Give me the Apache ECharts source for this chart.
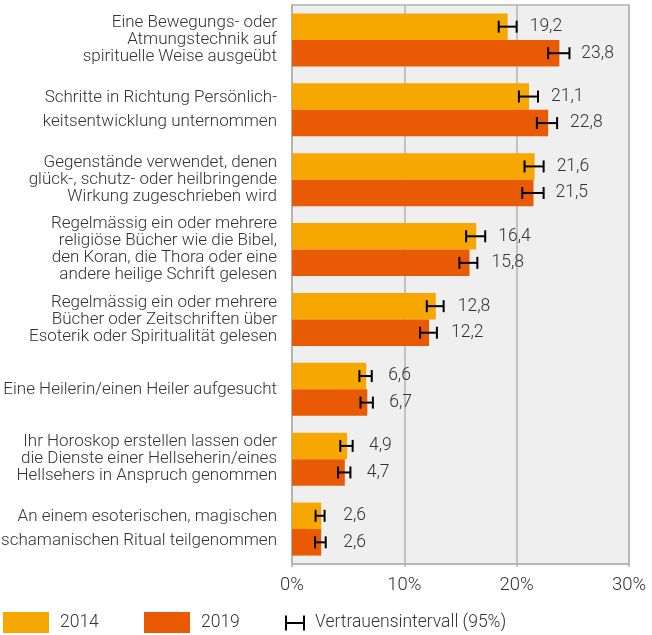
<!DOCTYPE html>
<html>
<head>
    <meta charset="utf-8">
    <title>Spirituelle Praktiken 2014 / 2019</title>
    <script src="https://cdn.jsdelivr.net/npm/echarts@6/dist/echarts.min.js"></script>
    <style>
        html, body { margin: 0; padding: 0; background: #fff; }
    </style>
</head>
<body>
<div id="main" style="width: 652px;height:635px;"></div>
<script type="text/javascript">

    const categories = [
        'Eine Bewegungs- oder\nAtmungstechnik auf\nspirituelle Weise ausgeübt',
        'Schritte in Richtung Persönlich-\nkeitsentwicklung unternommen',
        'Gegenstände verwendet, denen\nglück-, schutz- oder heilbringende\nWirkung zugeschrieben wird',
        'Regelmässig ein oder mehrere\nreligiöse Bücher wie die Bibel,\nden Koran, die Thora oder eine\nandere heilige Schrift gelesen',
        'Regelmässig ein oder mehrere\nBücher oder Zeitschriften über\nEsoterik oder Spiritualität gelesen',
        'Eine Heilerin/einen Heiler aufgesucht',
        'Ihr Horoskop erstellen lassen oder\ndie Dienste einer Hellseherin/eines\nHellsehers in Anspruch genommen',
        'An einem esoterischen, magischen\nschamanischen Ritual teilgenommen'
    ];
    const values2014 = [19.2, 21.1, 21.6, 16.4, 12.8, 6.6, 4.9, 2.6];
    const values2019 = [23.8, 22.8, 21.5, 15.8, 12.2, 6.7, 4.7, 2.6];
    // Vertrauensintervall (95%): untere / obere Grenze
    const low2014 = [18.4, 20.2, 20.7, 15.5, 12.0, 6.0, 4.3, 2.1];
    const high2014 = [20.0, 21.9, 22.4, 17.2, 13.5, 7.1, 5.4, 2.9];
    const low2019 = [22.8, 21.8, 20.5, 14.9, 11.4, 6.1, 4.1, 2.05];
    const high2019 = [24.7, 23.6, 22.4, 16.5, 12.9, 7.2, 5.2, 3.0];
    const xTicks = [0, 10, 20, 30];

    const colors = ['#f6a800', '#e95a04'];
    const textColor = '#333';
    const font = 'Roboto, "Noto Sans", sans-serif';
    const barCategoryGap = 0.24;

    const myChart = echarts.init(document.getElementById('main'));

    // Fehlerbalken als custom series (side: -1 = 2014 oben, 1 = 2019 unten)
    function errorSeries(low, high, side) {
        const data = low.map((l, i) => [i, l, high[i]]);
        return {
            type: 'custom',
            name: 'Vertrauensintervall (95%)',
            itemStyle: {color: '#000'},
            z: 10,
            encode: {x: [1, 2], y: 0},
            data: data,
            renderItem: function (params, api) {
                const cat = api.value(0);
                const p1 = api.coord([api.value(1), cat]);
                const p2 = api.coord([api.value(2), cat]);
                const band = api.size([0, 1])[1];
                const barW = band * (1 - barCategoryGap) / 2;
                const y = p1[1] + side * barW / 2;
                const cap = 6;
                const style = {stroke: '#000', lineWidth: 2, fill: null};
                return {
                    type: 'group',
                    children: [
                        {type: 'line', shape: {x1: p1[0], y1: y, x2: p2[0], y2: y}, style: style},
                        {type: 'line', shape: {x1: p1[0], y1: y - cap, x2: p1[0], y2: y + cap}, style: style},
                        {type: 'line', shape: {x1: p2[0], y1: y - cap, x2: p2[0], y2: y + cap}, style: style}
                    ]
                };
            }
        };
    }

    function barLabel() {
        return {
            show: true,
            position: 'right',
            distance: 22,
            color: textColor,
            fontSize: 17.5,
            fontWeight: 300,
            fontFamily: font,
            formatter: p => p.value.toFixed(1).replace('.', ',')
        };
    }

    const legendText = {color: textColor, fontSize: 17.5, fontWeight: 300, fontFamily: font};

    const option = {
        animation: false,
        backgroundColor: '#fff',
        grid: {
            left: 292,
            right: 23,
            top: 5,
            bottom: 71,
            outerBoundsMode: 'none',
            containLabel: false,
            show: true,
            backgroundColor: '#efefef',
            borderColor: '#b3b3b3',
            borderWidth: 1.5
        },
        legend: [
            {
                left: 3,
                top: 612,
                padding: 0,
                itemWidth: 46,
                itemHeight: 21,
                textStyle: Object.assign({padding: [0, 0, 0, 6]}, legendText),
                data: [{name: '2014', icon: 'rect'}]
            },
            {
                left: 144,
                top: 612,
                padding: 0,
                itemWidth: 46,
                itemHeight: 21,
                textStyle: Object.assign({padding: [0, 0, 0, 6]}, legendText),
                data: [{name: '2019', icon: 'rect'}]
            },
            {
                left: 285,
                top: 614,
                padding: 0,
                itemWidth: 20,
                itemHeight: 15,
                textStyle: Object.assign({padding: [0, 0, 0, 5]}, legendText),
                data: [{
                    name: 'Vertrauensintervall (95%)',
                    icon: 'path://M0,0L2,0L2,15L0,15ZM2,6.5L18,6.5L18,8.5L2,8.5ZM18,0L20,0L20,15L18,15Z',
                    itemStyle: {color: '#000'}
                }]
            }
        ],
        xAxis: {
            type: 'value',
            min: 0,
            max: 30,
            interval: 10,
            axisLine: {show: true, lineStyle: {color: '#b3b3b3', width: 1.5}},
            axisTick: {show: true, length: 3, lineStyle: {color: '#b3b3b3', width: 1.5}},
            splitLine: {show: true, lineStyle: {color: '#b3b3b3', width: 1.5}},
            axisLabel: {
                margin: 12,
                color: textColor,
                fontSize: 18.5,
                fontWeight: 300,
                fontFamily: font,
                customValues: xTicks,
                formatter: v => v + '%'
            }
        },
        yAxis: {
            type: 'category',
            inverse: true,
            data: categories,
            axisLine: {show: true, lineStyle: {color: '#b3b3b3', width: 2}},
            axisTick: {show: false},
            axisLabel: {
                margin: 15,
                align: 'right',
                color: textColor,
                fontSize: 17,
                fontWeight: 300,
                fontFamily: font,
                formatter: function (v) {
                    const lines = v.split('\n');
                    const key = lines.length === 2 ? 'b' : 'a';
                    return lines.map(l => '{' + key + '|' + l + '}').join('\n');
                },
                rich: {
                    a: {fontSize: 17, lineHeight: 17, color: textColor, fontWeight: 300, fontFamily: font, align: 'right'},
                    b: {fontSize: 17, lineHeight: 24, color: textColor, fontWeight: 300, fontFamily: font, align: 'right'}
                }
            }
        },
        series: [
            {
                name: '2014',
                type: 'bar',
                data: values2014,
                barGap: '0%',
                barCategoryGap: (barCategoryGap * 100) + '%',
                itemStyle: {color: colors[0]},
                label: barLabel()
            },
            {
                name: '2019',
                type: 'bar',
                data: values2019,
                barGap: '0%',
                barCategoryGap: (barCategoryGap * 100) + '%',
                itemStyle: {color: colors[1]},
                label: barLabel()
            },
            errorSeries(low2014, high2014, -1),
            errorSeries(low2019, high2019, 1)
        ]
    };

    myChart.setOption(option);
</script>
</body>
</html>
